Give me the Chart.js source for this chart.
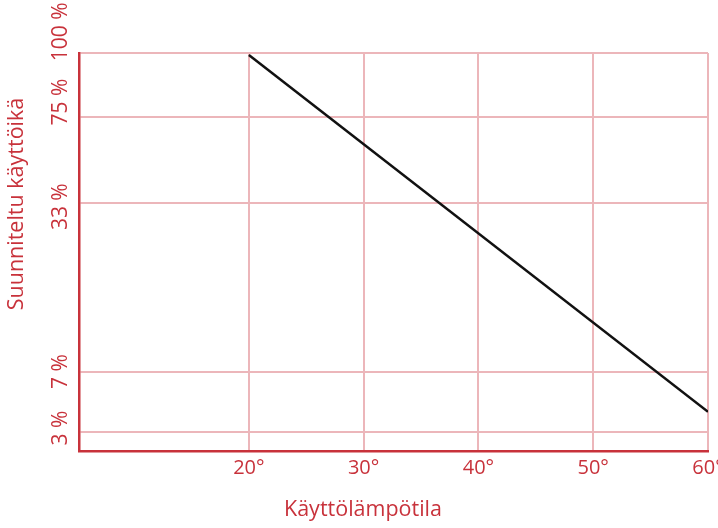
<!DOCTYPE html>
<html>
<head>
<meta charset="utf-8">
<script src="https://cdn.jsdelivr.net/npm/chart.js@4"></script>
<style>
  html, body { margin: 0; padding: 0; background: #fff; }
</style>
</head>
<body>
<canvas id="lifeChart" width="718" height="528"></canvas>
<script>
// Operating temperature (deg C) vs. designed service life.
// The y axis is a schematic one: values are positions on it, 0 = bottom, 100 = top.
const temps = [20, 60];
const lifetime = [99.5, 9.9];

const xTicks = [20, 30, 40, 50, 60];
const yTickLabels = ['3 %', '7 %', '33 %', '75 %', '100 %'];
const yGridValues = [4.8, 20.0, 62.4, 84.0, 100];    // grid lines
const yLabelValues = [5.8, 20.0, 61.4, 87.7, 105.3]; // where each label is written

const red = '#c8323b';
const pink = '#ecb6ba';
const fontFamily = '"Open Sans", "Noto Sans", sans-serif';

// y axis title is not centred on the plot, so it is drawn here
const yTitlePlugin = {
    id: 'yTitle',
    afterDraw(chart) {
        const ctx = chart.ctx;
        ctx.save();
        ctx.translate(17, 204);
        ctx.rotate(-Math.PI / 2);
        ctx.fillStyle = red;
        ctx.font = '21.5px ' + fontFamily;
        ctx.textAlign = 'center';
        ctx.textBaseline = 'middle';
        ctx.fillText('Suunniteltu käyttöikä', 0, 0);
        ctx.restore();
    }
};

const ctx = document.getElementById('lifeChart').getContext('2d');
const lifeChart = new Chart(ctx, {
    type: 'line',
    data: {
        datasets: [{
            data: temps.map((t, i) => ({ x: t, y: lifetime[i] })),
            borderColor: '#111111',
            borderWidth: 2.5,
            pointRadius: 0,
            fill: false,
            tension: 0
        }]
    },
    options: {
        responsive: false,
        devicePixelRatio: 1,
        animation: false,
        layout: {
            padding: { left: 18, right: 10, top: 53, bottom: 5 }
        },
        scales: {
            x: {
                type: 'linear',
                position: 'bottom',
                min: 5.2,
                max: 60,
                afterBuildTicks: scale => {
                    scale.ticks = xTicks.map(v => ({ value: v }));
                },
                afterFit: scale => {
                    scale.height = 46;
                    scale.paddingLeft = 0;
                    scale.paddingRight = 0;
                },
                ticks: {
                    color: red,
                    font: { family: fontFamily, size: 20 },
                    padding: 5,
                    maxRotation: 0,
                    autoSkip: false,
                    callback: v => v + '°'
                },
                grid: { color: pink, lineWidth: 2, drawTicks: false },
                border: { color: red, width: 2.5 }
            },
            yl: {
                type: 'linear',
                position: 'left',
                weight: 1,
                min: 0,
                max: 100,
                afterBuildTicks: scale => {
                    scale.ticks = yLabelValues.map(v => ({ value: v }));
                },
                afterFit: scale => {
                    scale.width = 61;
                },
                ticks: {
                    color: red,
                    font: { family: fontFamily, size: 21 },
                    minRotation: 90,
                    maxRotation: 90,
                    crossAlign: 'center',
                    padding: -11,
                    autoSkip: false,
                    callback: (v, i) => yTickLabels[i]
                },
                grid: { display: false, drawTicks: false },
                border: { display: false }
            },
            y: {
                type: 'linear',
                position: 'left',
                weight: 0,
                min: 0,
                max: 100,
                afterBuildTicks: scale => {
                    scale.ticks = yGridValues.map(v => ({ value: v }));
                },
                afterFit: scale => {
                    scale.width = 0;
                },
                ticks: { display: false },
                grid: { color: pink, lineWidth: 2, drawTicks: false },
                border: { color: red, width: 2.5 }
            }
        },
        plugins: {
            legend: { display: false },
            tooltip: { enabled: false },
            title: {
                display: true,
                position: 'bottom',
                text: 'Käyttölämpötila',
                color: red,
                font: { family: fontFamily, size: 21.5, weight: 'normal' },
                padding: { top: 0, bottom: 0 }
            }
        }
    },
    plugins: [yTitlePlugin]
});
</script>
</body>
</html>
